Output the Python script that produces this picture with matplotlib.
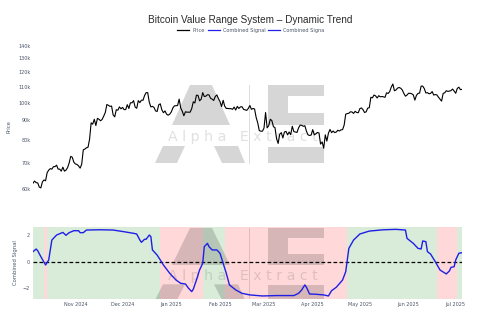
import matplotlib
matplotlib.use("Agg")
import matplotlib.pyplot as plt
from matplotlib.patches import Polygon, Rectangle
from matplotlib.lines import Line2D
from matplotlib.transforms import Affine2D
from matplotlib.ticker import NullLocator
import pandas as pd

# ---------------- data ----------------
start_date = "2024-10-05"
price_oct = [62.0, 62.8, 62.2, 62.1, 60.6, 60.3, 62.5, 63.2, 62.9, 66.0, 67.0, 67.6, 67.4, 68.4,
             68.4, 69.0, 67.4, 67.4, 66.6, 68.2, 66.6, 67.0, 68.0, 69.9, 72.7, 72.3, 70.2]
price_nov = [69.5, 69.3, 68.7, 67.8, 69.4, 75.6, 75.9, 76.5, 76.7, 80.5, 88.7, 88.0, 90.6, 87.3,
             91.1, 90.6, 89.8, 90.5, 92.3, 94.3, 98.9, 98.4, 97.8, 98.0, 93.0, 91.9, 95.9, 95.6,
             97.5, 96.4]
price_dec = [97.2, 95.9, 96.0, 98.8, 96.6, 99.9, 99.9, 101.2, 97.4, 96.7, 101.2, 100.0, 101.5,
             101.4, 104.3, 106.1, 106.1, 100.2, 97.5, 97.8, 97.2, 95.2, 94.9, 98.7, 99.3, 95.8,
             94.2, 95.2, 93.4, 92.8, 93.4]
price_jan = [94.6, 96.9, 98.1, 98.2, 98.3, 102.1, 96.9, 95.0, 92.5, 94.7, 94.5, 94.5, 94.5, 96.5,
             100.5, 99.8, 104.5, 104.4, 101.1, 102.0, 106.1, 103.7, 103.9, 104.8, 104.7, 102.6,
             102.1, 101.3, 103.7, 104.7, 102.4]
price_feb = [100.6, 97.7, 101.4, 97.9, 96.6, 96.6, 96.5, 96.5, 96.1, 97.4, 95.7, 97.8, 96.6, 97.5,
             97.6, 96.1, 95.8, 95.5, 96.6, 98.3, 96.1, 96.6, 96.3, 91.6, 88.7, 84.7, 84.4, 84.4]
price_mar = [86.0, 94.3, 86.1, 87.2, 90.6, 89.9, 86.7, 86.2, 80.7, 78.5, 82.9, 83.7, 81.1, 84.0,
             84.3, 82.6, 84.0, 82.7, 86.9, 84.2, 84.0, 83.8, 86.1, 87.5, 87.4, 86.9, 87.2, 84.4,
             82.6, 82.3, 82.5]
price_apr = [85.2, 82.6, 83.1, 83.8, 83.5, 78.2, 79.2, 76.3, 82.6, 79.6, 83.4, 85.3, 83.7, 84.5,
             83.7, 84.0, 84.9, 84.5, 85.1, 85.2, 87.5, 93.4, 93.7, 93.9, 94.7, 94.6, 93.8, 95.0,
             94.3, 94.2]
price_may = [96.5, 96.9, 95.9, 94.3, 94.7, 96.8, 97.0, 103.2, 102.9, 104.6, 104.1, 102.8, 104.2,
             103.5, 103.7, 103.5, 103.2, 106.0, 105.6, 106.8, 109.7, 111.7, 107.3, 107.8, 109.0,
             109.4, 108.9, 107.8, 105.6, 103.9, 104.6]
price_jun = [105.7, 105.7, 105.4, 104.7, 101.5, 104.4, 105.6, 105.8, 110.3, 110.3, 108.7, 105.9,
             106.1, 105.4, 105.6, 106.8, 104.6, 104.9, 104.7, 103.3, 102.1, 100.9, 105.6, 106.0,
             107.3, 106.9, 107.1, 107.4, 108.4, 107.1]
price_jul = [105.7, 108.8, 109.6, 108.0, 108.2]

signal_dates = ["2024-10-05", "2024-10-07", "2024-10-08", "2024-10-10", "2024-10-13", "2024-10-15",
                "2024-10-17", "2024-10-20", "2024-10-24", "2024-10-26", "2024-10-28", "2024-10-31",
                "2024-11-03", "2024-11-04", "2024-11-06", "2024-11-08", "2024-11-17", "2024-11-25",
                "2024-12-02", "2024-12-08", "2024-12-10", "2024-12-12", "2024-12-13", "2024-12-15",
                "2024-12-16", "2024-12-18", "2024-12-19", "2024-12-20", "2024-12-23", "2024-12-25",
                "2024-12-27", "2024-12-31", "2025-01-04", "2025-01-07", "2025-01-10", "2025-01-12",
                "2025-01-14", "2025-01-15", "2025-01-17", "2025-01-19", "2025-01-21", "2025-01-22",
                "2025-01-24", "2025-01-25", "2025-01-27", "2025-01-30", "2025-02-01", "2025-02-03",
                "2025-02-05", "2025-02-07", "2025-02-11", "2025-02-15", "2025-02-20", "2025-02-28",
                "2025-03-09", "2025-03-20", "2025-03-23", "2025-03-25", "2025-03-27", "2025-03-28",
                "2025-03-30", "2025-04-03", "2025-04-08", "2025-04-11", "2025-04-13", "2025-04-16",
                "2025-04-20", "2025-04-22", "2025-04-23", "2025-04-24", "2025-04-27", "2025-05-01",
                "2025-05-07", "2025-05-16", "2025-05-24", "2025-05-30", "2025-05-31", "2025-06-04",
                "2025-06-07", "2025-06-09", "2025-06-10", "2025-06-12", "2025-06-13", "2025-06-15",
                "2025-06-18", "2025-06-21", "2025-06-25", "2025-06-27", "2025-06-28", "2025-06-30",
                "2025-07-01", "2025-07-03", "2025-07-05"]
signal_values = [0.76, 0.96, 0.83, 0.38, -0.25, 0.13,
                 1.64, 2.02, 2.22, 2.0, 2.2, 2.35,
                 2.35, 2.2, 2.2, 2.4, 2.42, 2.4,
                 2.27, 2.15, 2.1, 1.64, 1.47, 1.7,
                 1.7, 2.02, 1.9, 0.89, 0.5, 0.13,
                 -0.25, -0.88, -1.39, -1.64, -1.69, -2.02,
                 -2.27, -2.09, -1.39, -0.63, -0.12, 1.14,
                 1.39, 1.14, 0.89, 0.89, 0.64, -0.12,
                 -0.88, -1.76, -2.14, -2.4, -2.52, -2.6,
                 -2.57, -2.57, -2.4, -2.14, -1.76, -1.94,
                 -2.45, -2.47, -2.52, -2.6, -2.2, -1.94,
                 -1.39, -0.76, 0.13, 1.01, 1.64, 2.1,
                 2.32, 2.42, 2.45, 2.4, 1.77, 1.39,
                 1.01, 0.96, 1.57, 1.52, 0.76, 0.58,
                 0.0, -0.63, -0.93, -0.7, -0.43, -0.38,
                 0.13, 0.64, 0.68]

regime_starts = ["2024-10-05", "2024-10-12", "2024-10-14", "2024-12-25", "2025-01-21",
                 "2025-02-04", "2025-04-23", "2025-06-19", "2025-07-02"]
regime_end = "2025-07-05"
regime_states = ["bull", "bear", "bull", "bear", "bull", "bear", "bull", "bear", "bull"]

price_ticks = [60, 70, 80, 90, 100, 110, 120, 130, 140]
month_ticks = ["2024-11-01", "2024-12-01", "2025-01-01", "2025-02-01", "2025-03-01",
               "2025-04-01", "2025-05-01", "2025-06-01", "2025-07-01"]

# ---------------- figure ----------------
W, H = 500, 333
fig = plt.figure(figsize=(5, 3.33), dpi=100)
fig.patch.set_facecolor("white")


def box(x0, y0, x1, y1):
    return [x0 / W, 1 - y1 / H, (x1 - x0) / W, (y1 - y0) / H]


ax1 = fig.add_axes(box(33, 40, 462, 193))
ax2 = fig.add_axes(box(33, 227, 462, 299))

PX = Affine2D().scale(1 / W, -1 / H).translate(0, 1) + fig.transFigure

TICK_COLOR = "#4a5668"
small = 3.5

prices = price_oct + price_nov + price_dec + price_jan + price_feb + price_mar + price_apr + price_may + price_jun + price_jul
dates = pd.date_range(start_date, periods=len(prices), freq="D")
sdates = pd.to_datetime(signal_dates)
t0, t1 = dates[0], dates[-1]

# ---- watermark logo ----
def draw_logo(ax, top, scale):
    def Y(y):
        return top + (y - 85) * scale
    shade = dict(facecolor=(0, 0, 0, 0.16), edgecolor="none", transform=PX, zorder=1)
    polys = [
        [(190, 85), (212, 85), (230, 125), (172, 125)],
        [(163, 146), (185, 146), (177, 163), (155, 163)],
        [(214, 146), (238, 146), (245, 163), (222, 163)],
    ]
    for pts in polys:
        ax.add_patch(Polygon([(x, Y(y)) for x, y in pts], closed=True, **shade))
    rects = [(268, 85, 324, 96), (268, 96, 288, 113), (268, 113, 324, 125), (268, 147, 324, 163)]
    for x0, y0, x1, y1 in rects:
        ax.add_patch(Polygon([(x0, Y(y0)), (x1, Y(y0)), (x1, Y(y1)), (x0, Y(y1))], closed=True, **shade))
    ax.add_line(Line2D([249, 249], [Y(85), Y(163)], color=(0, 0, 0, 0.16), lw=0.6,
                       transform=PX, zorder=1))
    ax.text(243, Y(137), "A l p h a   E x t r a c t", transform=PX, ha="center", va="center",
            fontsize=10.2, color=(0, 0, 0, 0.12), zorder=1)


draw_logo(ax1, 85, 1.0)
draw_logo(ax2, 228, 72 / 78)

# ---- top panel ----
ax1.plot(dates, prices, color="black", lw=0.8, zorder=3, label="Price")
ax1.set_yscale("log")
ax1.set_ylim(58.5, 145)
ax1.set_xlim(t0, t1)
ax1.set_yticks(price_ticks)
ax1.set_yticklabels([f"{v}k" for v in price_ticks])
ax1.yaxis.set_minor_locator(NullLocator())
ax1.set_xticks([])
ax1.tick_params(axis="y", length=0, pad=1.5, labelsize=small, labelcolor=TICK_COLOR)
for s in ax1.spines.values():
    s.set_visible(False)

# ---- bottom panel ----
colors = {"bull": (0 / 255, 128 / 255, 0, 0.15), "bear": (1, 0, 0, 0.15)}
bounds = pd.to_datetime(regime_starts + [regime_end])
for i, st in enumerate(regime_states):
    ax2.axvspan(bounds[i], bounds[i + 1], color=colors[st], lw=0, zorder=0)
ax2.plot(sdates, signal_values, color="#1f1fe6", lw=1.0, zorder=3, label="Combined Signal")
ax2.axhline(0, color="black", lw=0.9, ls=(0, (3.0, 1.8)), zorder=2)
ax2.set_xlim(t0, t1)
ax2.set_ylim(-2.83, 2.63)
ax2.set_yticks([-2, 0, 2])
mt = pd.to_datetime(month_ticks)
ax2.set_xticks(mt)
ax2.set_xticklabels([d.strftime("%b %Y") for d in mt])
ax2.tick_params(length=0, labelsize=small, labelcolor=TICK_COLOR)
ax2.tick_params(axis="x", pad=2)
ax2.tick_params(axis="y", pad=2)
for s in ax2.spines.values():
    s.set_visible(False)

# ---- texts ----
fig.text(250 / W, 1 - 20 / H, "Bitcoin Value Range System \u2013 Dynamic Trend", ha="center",
         va="center", fontsize=7.2, color="#2b2b2b", family="Liberation Sans")
fig.text(9 / W, 1 - 127 / H, "Price", rotation=90, ha="center", va="center",
         fontsize=3.8, color=TICK_COLOR)
fig.text(15 / W, 1 - 263 / H, "Combined Signal", rotation=90, ha="center", va="center",
         fontsize=3.8, color=TICK_COLOR)

handles = [Line2D([], [], color="black", lw=0.9),
           Line2D([], [], color="#1f1fe6", lw=0.9),
           Line2D([], [], color="#1f1fe6", lw=0.9)]
labels = ["Price", "Combined Signal", "Combined Signa"]
leg = fig.legend(handles, labels, loc="center", bbox_to_anchor=(251 / W, 1 - 30.7 / H), ncol=3,
                 frameon=False, fontsize=3.6, handlelength=2.4, handletextpad=0.6,
                 columnspacing=0.6, borderpad=0, borderaxespad=0)
for t in leg.get_texts():
    t.set_color(TICK_COLOR)

fig.savefig("out.png", dpi=100, facecolor="white")
